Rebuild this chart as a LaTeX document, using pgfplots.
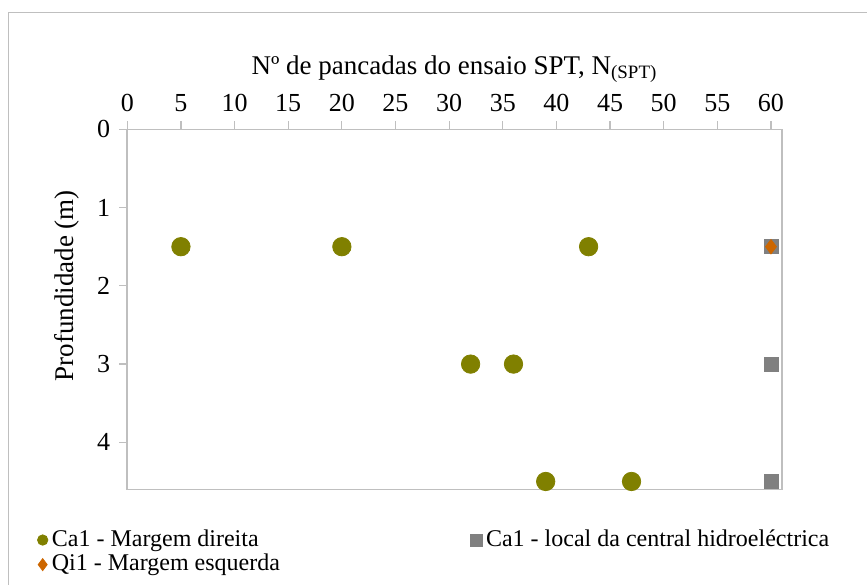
\documentclass[border=0pt]{standalone}
\usepackage{fontspec}
\setmainfont{Liberation Serif}
\usepackage{pgfplots}
\pgfplotsset{compat=1.18}
\definecolor{cDir}{RGB}{128,128,0}
\definecolor{cLoc}{RGB}{128,128,128}
\definecolor{cEsq}{RGB}{204,102,0}
\definecolor{cAx}{RGB}{191,191,191}
\begin{document}
\begin{tikzpicture}
\fontsize{13}{15}\selectfont
\useasboundingbox (-63.65pt,-47.35pt) rectangle (369.85pt,244.65pt);
\draw[cAx] (-59.65pt,-60pt) -- (-59.65pt,238.65pt) -- (380pt,238.65pt);
\begin{axis}[
    at={(0,0)}, anchor=south west,
    scale only axis,
    width=327.2pt,
    height=180pt,
    xmin=0, xmax=61,
    ymin=0, ymax=4.6,
    y dir=reverse,
    xtick={0,5,...,60},
    ytick={0,1,...,4},
    xtick pos=upper,
    xticklabel pos=upper,
    ytick pos=left,
    tick align=outside,
    major tick length=4pt,
    axis line style={cAx, line width=0.8pt},
    tick style={cAx, line width=0.6pt},
    /pgf/number format/assume math mode=true,
    ticklabel style={font=\fontsize{13}{15}\selectfont},
    xlabel={Nº de pancadas do ensaio SPT, N\textsubscript{(SPT)}},
    ylabel={Profundidade (m)},
    label style={font=\fontsize{13.5}{15}\selectfont},
    xlabel style={yshift=-3pt},
    ylabel style={at={(ticklabel cs:0.56)}, xshift=1pt},
    legend columns=2,
    legend cell align=left,
    legend style={
        at={(-0.147,-0.089)}, anchor=north west,
        draw=none, fill=none,
        font=\fontsize{12}{14}\selectfont,
        row sep=-2pt,
        /tikz/every even column/.append style={column sep=93pt},
    },
]
\addplot[only marks, mark=*, mark size=4.6pt, color=cDir,
    legend image code/.code={\draw[mark size=2.6pt] plot coordinates {(0.15cm,0cm)};}]
coordinates {(5,1.5) (20,1.5) (43,1.5) (32,3) (36,3) (39,4.5) (47,4.5)};
\addlegendentry{Ca1 - Margem direita}
\addplot[only marks, mark=square*, mark size=3.5pt, color=cLoc,
    legend image code/.code={\draw[mark size=3pt] plot coordinates {(0.15cm,0cm)};}]
coordinates {(60,1.5) (60,3) (60,4.5)};
\addlegendentry{Ca1 - local da central hidroeléctrica}
\addplot[only marks, mark=diamond*, mark size=3.6pt, color=cEsq,
    legend image code/.code={\draw[mark size=3pt] plot coordinates {(0.15cm,0cm)};}]
coordinates {(60,1.5)};
\addlegendentry{Qi1 - Margem esquerda}
\end{axis}
\end{tikzpicture}
\end{document}
